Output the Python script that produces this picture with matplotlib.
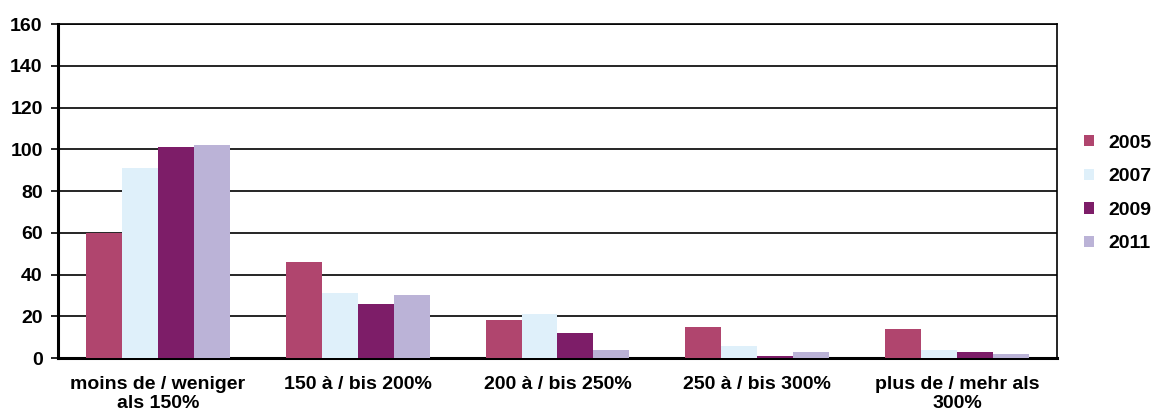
import numpy as np
import matplotlib.pyplot as plt
from matplotlib.patches import Patch

plt.rcParams['font.family'] = ['Liberation Sans', 'DejaVu Sans']
plt.rcParams['font.weight'] = 'bold'

categories = ['moins de / weniger\nals 150%', '150 à / bis 200%', '200 à / bis 250%',
              '250 à / bis 300%', 'plus de / mehr als\n300%']
years = ['2005', '2007', '2009', '2011']
v2005 = [60, 46, 18, 15, 14]
v2007 = [91, 31, 21, 6, 4]
v2009 = [101, 26, 12, 1, 3]
v2011 = [102, 30, 4, 3, 2]
colors = ['#B0456E', '#DFF0FA', '#7D1D68', '#BBB3D7']

fig = plt.figure(figsize=(11.51, 4.12), dpi=100)
ax = fig.add_axes([0.0504, 0.131, 0.8679, 0.8107])

x = np.arange(len(categories))
w = 0.18
for i, vals in enumerate([v2005, v2007, v2009, v2011]):
    ax.bar(x + (i - 1.5) * w, vals, w, color=colors[i], zorder=3)

ax.set_xlim(-0.5, len(categories) - 0.5)
ax.set_ylim(0, 160)
ax.set_yticks(range(0, 161, 20))
ax.yaxis.grid(True, color='black', linewidth=1.2, zorder=0)
ax.set_xticks(x)
ax.set_xticklabels(categories, fontsize=14, fontweight='bold', linespacing=1.15)
ax.tick_params(axis='x', length=0, pad=13)
ax.tick_params(axis='y', length=5, width=1.2, labelsize=14, pad=6)
for lbl in ax.get_yticklabels():
    lbl.set_fontweight('bold')

ax.spines['left'].set_linewidth(2.2)
ax.spines['bottom'].set_linewidth(2.2)
ax.spines['top'].set_linewidth(1.2)
ax.spines['right'].set_linewidth(1.2)

handles = [Patch(facecolor=c, edgecolor='none') for c in colors]
fig.legend(handles, years, loc='center left', bbox_to_anchor=(0.942, 0.53),
           frameon=False, handlelength=0.5, handleheight=0.5,
           handletextpad=0.75, labelspacing=0.85, borderaxespad=0, borderpad=0,
           prop={'weight': 'bold', 'size': 14})

fig.savefig('out.png', dpi=100)
